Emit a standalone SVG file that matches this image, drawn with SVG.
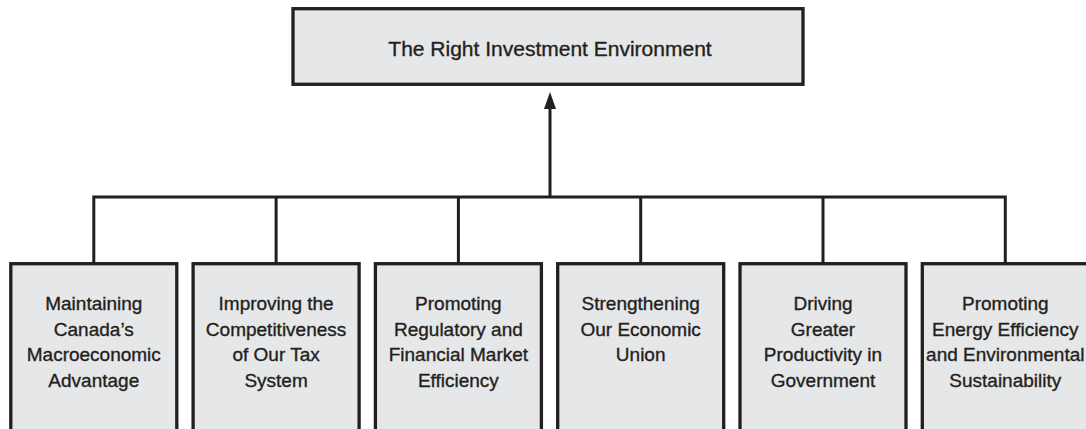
<svg xmlns="http://www.w3.org/2000/svg" width="1086" height="429" viewBox="0 0 1086 429">
  <style>
    .box { fill: #e6e7e8; stroke: #231f20; stroke-width: 3.3; }
    .lbl { font-family: "Liberation Sans", Arial, Helvetica, sans-serif; font-size: 19px; fill: #231f20; stroke: #231f20; stroke-width: 0.35; text-anchor: middle; }
    .title { font-size: 21px; }
    .conn { fill: none; stroke: #231f20; stroke-width: 3; stroke-linejoin: miter; }
  </style>
  <defs>
    <marker id="arrow" viewBox="0 0 17 12" refX="0" refY="6" markerWidth="17" markerHeight="12" markerUnits="userSpaceOnUse" orient="auto">
      <path d="M0,0 L17,6 L0,12 Z" fill="#231f20"/>
    </marker>
  </defs>
  <rect width="1086" height="429" fill="#ffffff"/>

  <g id="connectors">
    <path class="conn" d="M93.8,263.7 V197 H1005.3 V263.7"/>
    <path class="conn" d="M276.1,197 V263.7 M458.4,197 V263.7 M640.7,197 V263.7 M823,197 V263.7"/>
    <line class="conn" x1="550" y1="197" x2="550" y2="109" marker-end="url(#arrow)"/>
  </g>

  <g id="node-top">
    <rect class="box" x="293" y="8.7" width="510" height="75.6"/>
    <text class="lbl title" x="550" y="56">The Right Investment Environment</text>
  </g>

  <g id="node-1">
    <rect class="box" x="10.8" y="263.7" width="166" height="180"/>
    <text class="lbl" x="93.8" y="310"><tspan x="93.8">Maintaining</tspan><tspan x="93.8" dy="25.7">Canada’s</tspan><tspan x="93.8" dy="25.7">Macroeconomic</tspan><tspan x="93.8" dy="25.7">Advantage</tspan></text>
  </g>

  <g id="node-2">
    <rect class="box" x="193.1" y="263.7" width="166" height="180"/>
    <text class="lbl" x="276.1" y="310"><tspan x="276.1">Improving the</tspan><tspan x="276.1" dy="25.7">Competitiveness</tspan><tspan x="276.1" dy="25.7">of Our Tax</tspan><tspan x="276.1" dy="25.7">System</tspan></text>
  </g>

  <g id="node-3">
    <rect class="box" x="375.4" y="263.7" width="166" height="180"/>
    <text class="lbl" x="458.4" y="310"><tspan x="458.4">Promoting</tspan><tspan x="458.4" dy="25.7">Regulatory and</tspan><tspan x="458.4" dy="25.7">Financial Market</tspan><tspan x="458.4" dy="25.7">Efficiency</tspan></text>
  </g>

  <g id="node-4">
    <rect class="box" x="557.7" y="263.7" width="166" height="180"/>
    <text class="lbl" x="640.7" y="310"><tspan x="640.7">Strengthening</tspan><tspan x="640.7" dy="25.7">Our Economic</tspan><tspan x="640.7" dy="25.7">Union</tspan></text>
  </g>

  <g id="node-5">
    <rect class="box" x="740" y="263.7" width="166" height="180"/>
    <text class="lbl" x="823" y="310"><tspan x="823">Driving</tspan><tspan x="823" dy="25.7">Greater</tspan><tspan x="823" dy="25.7">Productivity in</tspan><tspan x="823" dy="25.7">Government</tspan></text>
  </g>

  <g id="node-6">
    <rect class="box" x="922.3" y="263.7" width="166" height="180"/>
    <text class="lbl" x="1005.3" y="310"><tspan x="1005.3">Promoting</tspan><tspan x="1005.3" dy="25.7">Energy Efficiency</tspan><tspan x="1005.3" dy="25.7">and Environmental</tspan><tspan x="1005.3" dy="25.7">Sustainability</tspan></text>
  </g>
</svg>
